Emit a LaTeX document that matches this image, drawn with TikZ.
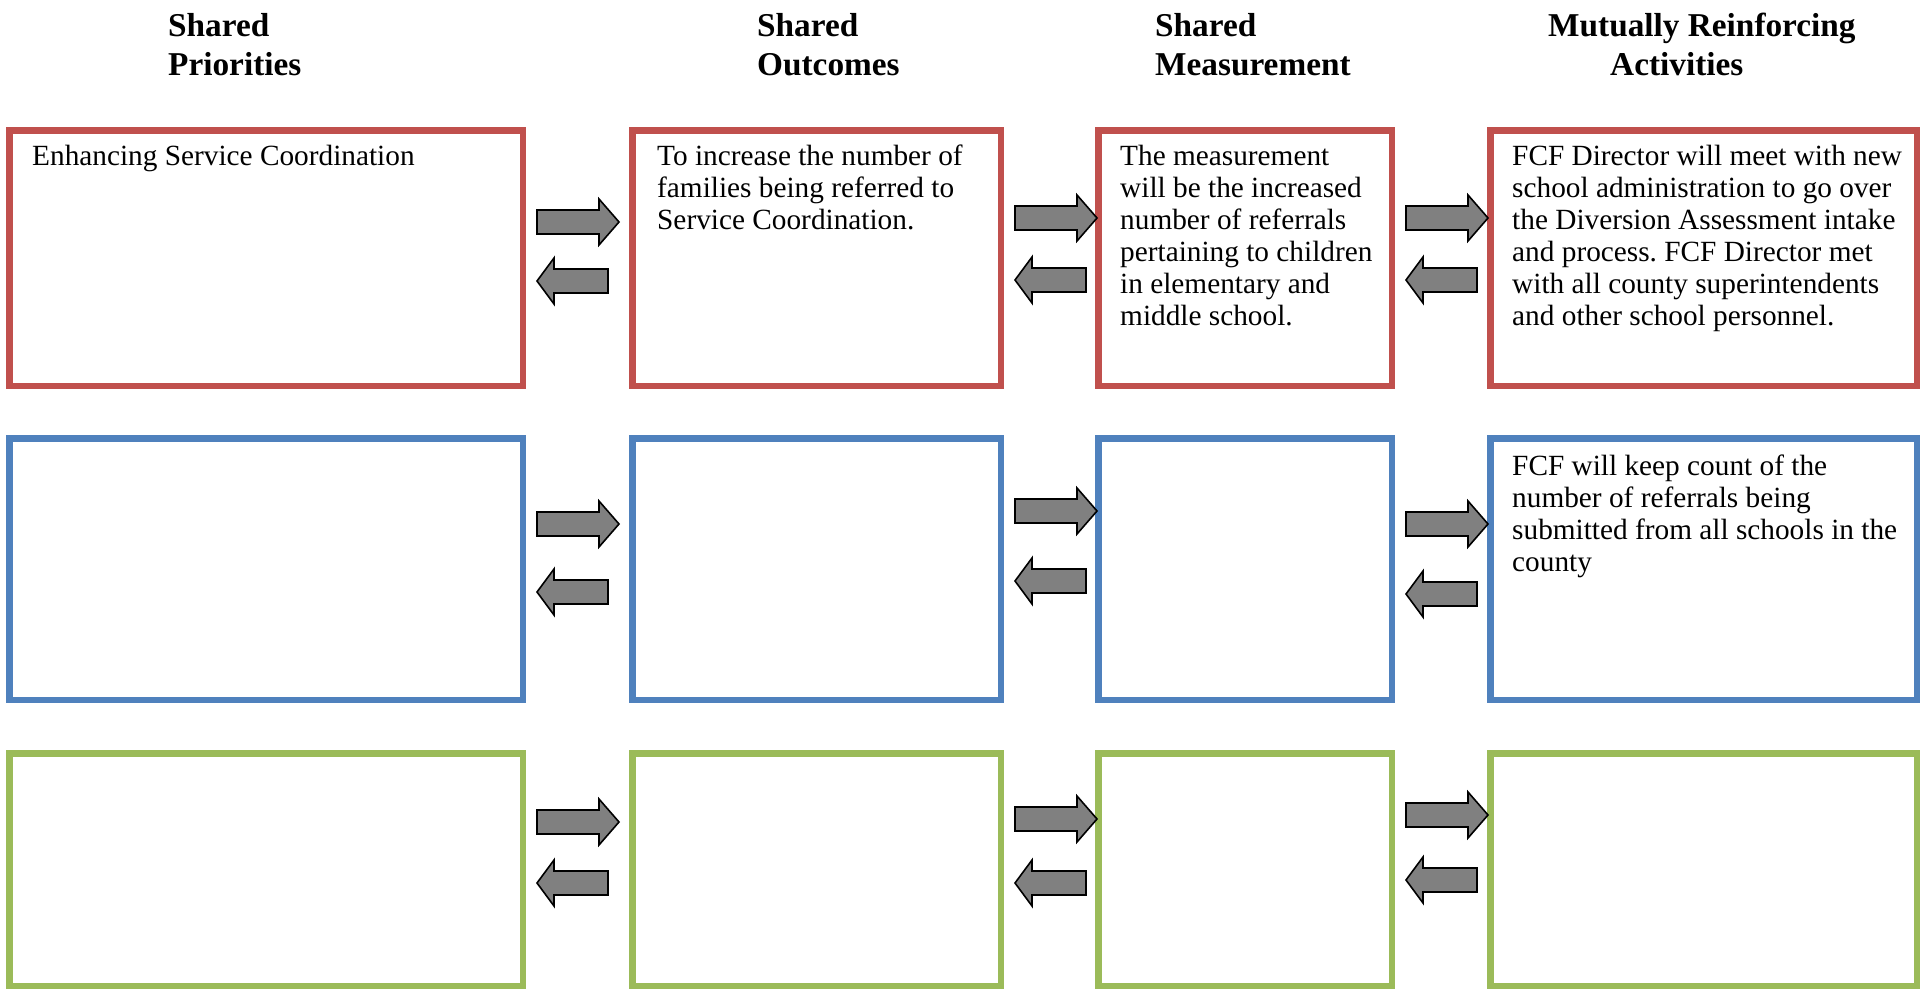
\documentclass[tikz,border=0pt]{standalone}
\usepackage{fontspec}
\setmainfont{Liberation Serif}
\frenchspacing
\usetikzlibrary{positioning}
\definecolor{boxred}{HTML}{C0504D}
\definecolor{boxblue}{HTML}{4F81BD}
\definecolor{boxgreen}{HTML}{9BBB59}
\definecolor{arrgray}{HTML}{808080}
\tikzset{
    pbox/.style={draw=#1, line width=6.5pt, anchor=north west, inner sep=0pt},
    hdr/.style={anchor=north west, inner sep=0pt, align=left, font=\bfseries\fontsize{33.3}{39}\selectfont},
    txt/.style={inner sep=0pt, align=left, font=\fontsize{29.3}{32}\selectfont},
    blk/.style={draw=black, fill=arrgray, line width=1.6pt, line join=miter},
    rarr/.pic={\draw[blk] (11,-12) -- (73,-12) -- (73,-23) -- (93,0) -- (73,23) -- (73,12) -- (11,12) -- cycle;},
    larr/.pic={\draw[blk] (11,0) -- (28,-23) -- (28,-12) -- (82,-12) -- (82,12) -- (28,12) -- (28,23) -- cycle;}
}
\begin{document}
\begin{tikzpicture}[x=1pt, y=-1pt]
    \useasboundingbox (0,0) rectangle (1923,990);
    \node[hdr] (h1) at (168,13) {Shared\\Priorities};
    \node[hdr] (h2) at (757,13) {Shared\\Outcomes};
    \node[hdr] (h3) at (1155,13) {Shared\\Measurement};
    \node[hdr] (h4) at (1548,13) {Mutually Reinforcing\\\hspace*{62pt}Activities};
    \node[pbox=boxred, minimum width=513.5pt, minimum height=255.5pt] (p11) at (6,127) {};
    \node[pbox=boxred, minimum width=368.5pt, minimum height=255.5pt] (p12) at (629,127) {};
    \node[pbox=boxred, minimum width=293.5pt, minimum height=255.5pt] (p13) at (1095,127) {};
    \node[pbox=boxred, minimum width=426.5pt, minimum height=255.5pt] (p14) at (1487,127) {};
    \node[pbox=boxblue, minimum width=513.5pt, minimum height=261.5pt] (p21) at (6,435) {};
    \node[pbox=boxblue, minimum width=368.5pt, minimum height=261.5pt] (p22) at (629,435) {};
    \node[pbox=boxblue, minimum width=293.5pt, minimum height=261.5pt] (p23) at (1095,435) {};
    \node[pbox=boxblue, minimum width=426.5pt, minimum height=261.5pt] (p24) at (1487,435) {};
    \node[pbox=boxgreen, minimum width=513.5pt, minimum height=232.5pt] (p31) at (6,750) {};
    \node[pbox=boxgreen, minimum width=368.5pt, minimum height=232.5pt] (p32) at (629,750) {};
    \node[pbox=boxgreen, minimum width=293.5pt, minimum height=232.5pt] (p33) at (1095,750) {};
    \node[pbox=boxgreen, minimum width=426.5pt, minimum height=232.5pt] (p34) at (1487,750) {};
    \node[txt, below right=18pt and 26pt of p11.north west] (t11) {Enhancing Service Coordination};
    \node[txt, below right=18pt and 28pt of p12.north west] (t12) {To increase the number of\\families being referred to\\Service Coordination.};
    \node[txt, below right=18pt and 25pt of p13.north west] (t13) {The measurement\\will be the increased\\number of referrals\\pertaining to children\\in elementary and\\middle school.};
    \node[txt, below right=18pt and 25pt of p14.north west] (t14) {FCF Director will meet with new\\school administration to go over\\the Diversion Assessment intake\\and process. FCF Director met\\with all county superintendents\\and other school personnel.};
    \node[txt, below right=20pt and 25pt of p24.north west] (t24) {FCF will keep count of the\\number of referrals being\\submitted from all schools in the\\county};
    \pic at (p11.east |- 0,222) {rarr};
    \pic at (p11.east |- 0,281) {larr};
    \pic at (p12.east |- 0,218) {rarr};
    \pic at (p12.east |- 0,280) {larr};
    \pic at (p13.east |- 0,218) {rarr};
    \pic at (p13.east |- 0,280) {larr};
    \pic at (p21.east |- 0,524) {rarr};
    \pic at (p21.east |- 0,592) {larr};
    \pic at (p22.east |- 0,511) {rarr};
    \pic at (p22.east |- 0,581) {larr};
    \pic at (p23.east |- 0,524) {rarr};
    \pic at (p23.east |- 0,594) {larr};
    \pic at (p31.east |- 0,822) {rarr};
    \pic at (p31.east |- 0,883) {larr};
    \pic at (p32.east |- 0,819) {rarr};
    \pic at (p32.east |- 0,883) {larr};
    \pic at (p33.east |- 0,815) {rarr};
    \pic at (p33.east |- 0,880) {larr};
\end{tikzpicture}
\end{document}
